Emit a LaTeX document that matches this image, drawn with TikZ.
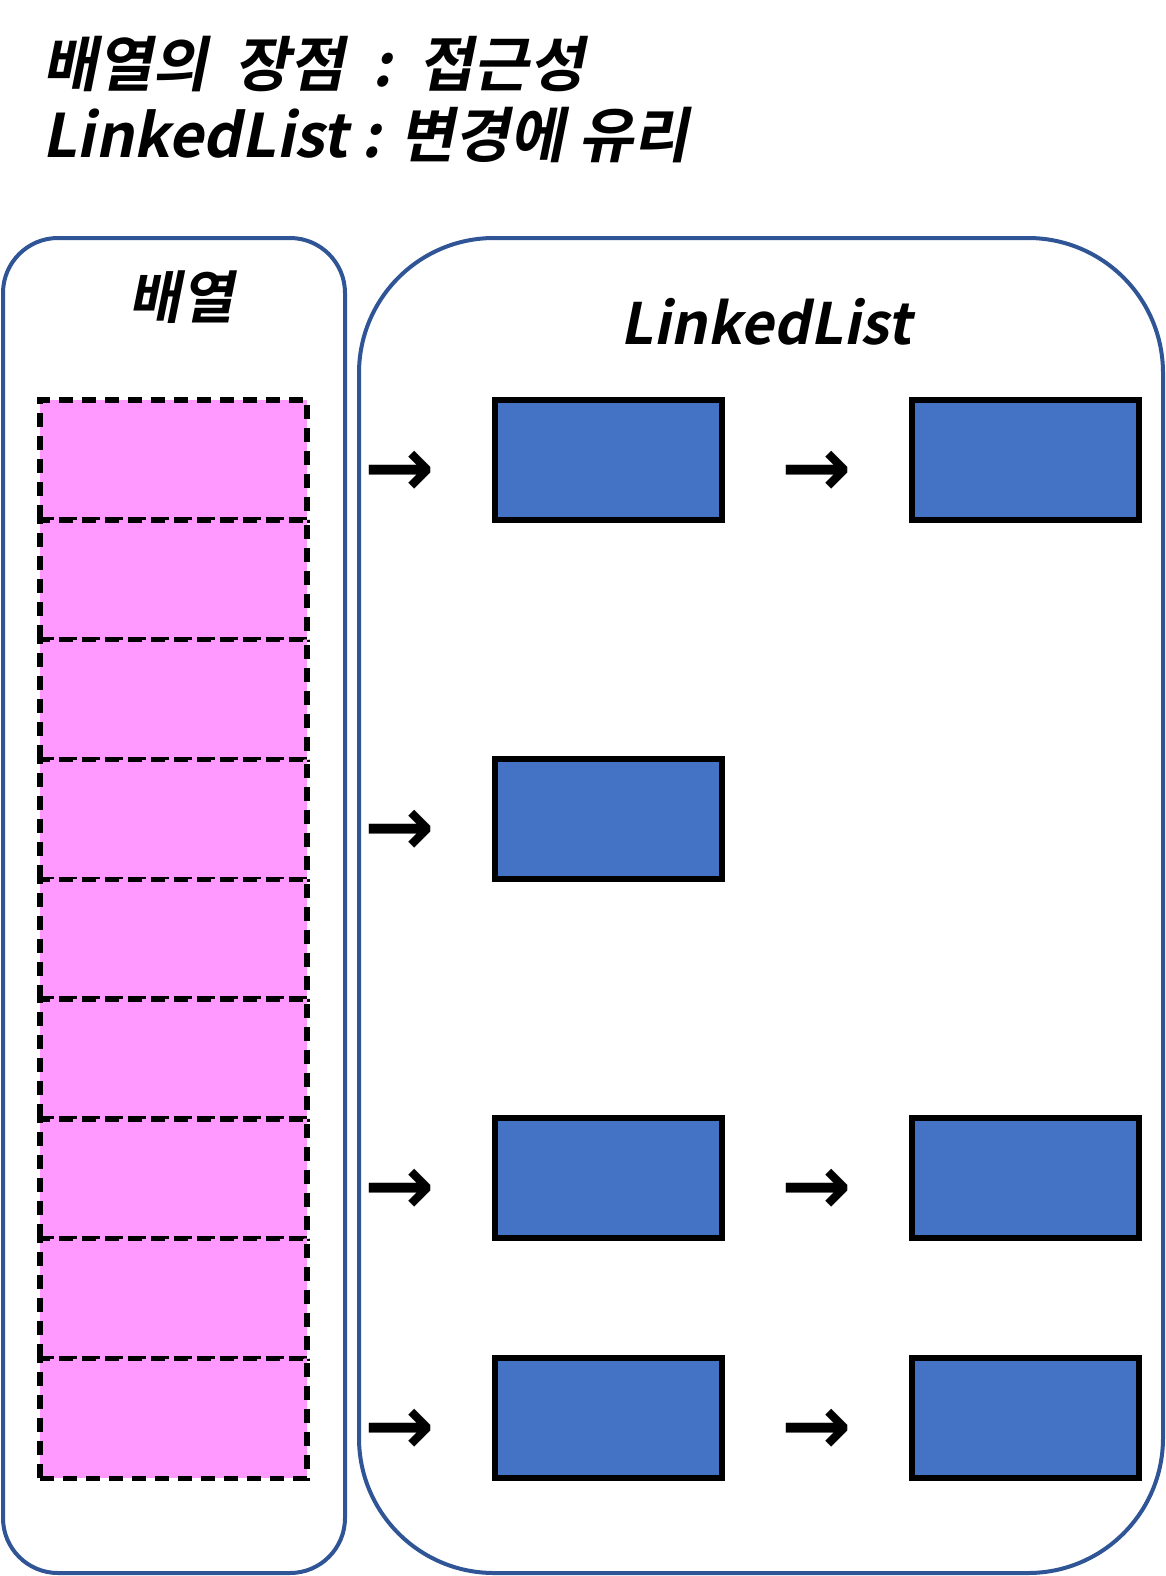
\documentclass[tikz,border=0pt]{standalone}
\usepackage{fontspec}
\usepackage{tikz}
\usetikzlibrary{shapes.geometric, arrows, positioning}
\newfontfamily\kofont{Noto Sans CJK KR}[UprightFont=* Bold, FakeSlant=0.2]
\newfontfamily\arrowfont{DejaVu Sans}[UprightFont=* Bold]
\newcommand{\gap}{\hspace{0.45em}}
\definecolor{panelblue}{RGB}{47,85,151}
\definecolor{cellpink}{RGB}{255,153,255}
\definecolor{nodeblue}{RGB}{68,114,196}
\tikzstyle{panel} = [rectangle, draw=panelblue, line width=4pt, fill=white]
\tikzstyle{cell} = [rectangle, minimum width=267pt, minimum height=119.8pt, outer sep=0pt, draw=black, dash pattern=on 14pt off 9pt, line width=5.5pt, fill=cellpink]
\tikzstyle{listnode} = [rectangle, minimum width=227pt, minimum height=120pt, draw=black, line width=5.5pt, fill=nodeblue]
\tikzstyle{title} = [font=\kofont\fontsize{60}{71}\selectfont, align=left, inner sep=0pt]
\tikzstyle{label} = [font=\kofont\fontsize{57}{70}\selectfont, inner sep=0pt]
\tikzstyle{pointer} = [font=\arrowfont\fontsize{84}{84}\selectfont, inner sep=0pt]

\begin{document}
\begin{tikzpicture}[x=1pt, y=-1pt]
\useasboundingbox (0,0) rectangle (1165,1576);

% Title
\node (title) [title, anchor=north west] at (42,36) {배열의\gap 장점\gap :\gap 접근성\\LinkedList : 변경에 유리};

% Panels
\node (arraypanel) [panel, rounded corners=55pt, minimum width=342pt, minimum height=1335pt] at (174,905.5) {};
\node (listpanel) [panel, rounded corners=135pt, minimum width=804pt, minimum height=1335pt] at (761,905.5) {};
\node (arraylabel) [label] at (181,297) {배열};
\node (listlabel) [label] at (766,322) {LinkedList};

% Array cells
\node (cell1) [cell] at (173.5,460) {};
\node (cell2) [cell, below=0pt of cell1] {};
\node (cell3) [cell, below=0pt of cell2] {};
\node (cell4) [cell, below=0pt of cell3] {};
\node (cell5) [cell, below=0pt of cell4] {};
\node (cell6) [cell, below=0pt of cell5] {};
\node (cell7) [cell, below=0pt of cell6] {};
\node (cell8) [cell, below=0pt of cell7] {};
\node (cell9) [cell, below=0pt of cell8] {};

% Linked list nodes
\node (nodeA) [listnode] at (608.5,460) {};
\node (nodeB) [listnode] at (1025.5,460) {};
\node (nodeC) [listnode] at (608.5,819) {};
\node (nodeD) [listnode] at (608.5,1178) {};
\node (nodeE) [listnode] at (1025.5,1178) {};
\node (nodeF) [listnode] at (608.5,1418) {};
\node (nodeG) [listnode] at (1025.5,1418) {};

% Pointers
\node (ptrA) [pointer] at (400,474) {→};
\node (ptrB) [pointer] at (817,474) {→};
\node (ptrC) [pointer] at (400,833) {→};
\node (ptrD) [pointer] at (400,1192) {→};
\node (ptrE) [pointer] at (817,1192) {→};
\node (ptrF) [pointer] at (400,1432) {→};
\node (ptrG) [pointer] at (817,1432) {→};

\end{tikzpicture}
\end{document}
